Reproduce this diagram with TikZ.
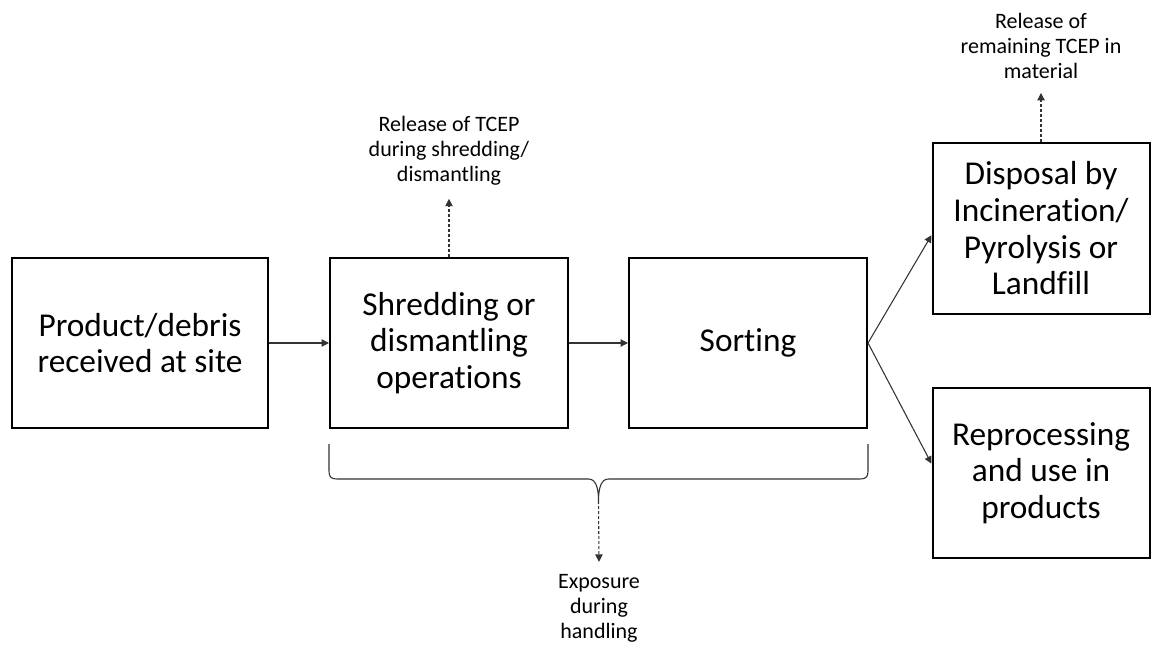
\documentclass[tikz,border=0pt]{standalone}
\usepackage{fontspec}
\setmainfont{Carlito}[Ligatures=NoCommon]
\usetikzlibrary{calc,arrows.meta}

\tikzset{
  stepbox/.style={draw=black,line width=1.5pt,minimum width=#1,minimum height=170*0.75pt,
    align=center,inner sep=0pt,font=\fontsize{25}{27.5}\selectfont},
  smalltext/.style={align=center,inner sep=0pt,font=\fontsize{16.5}{18.75}\selectfont},
  flow/.style={draw=black!80,line width=0.8pt,-{Triangle[length=5.5pt,width=5.5pt]}},
  dotflow/.style={flow,dash pattern=on 2.25pt off 1.5pt},
  braceline/.style={draw=black!80,line width=0.8pt}
}

\begin{document}
\begin{tikzpicture}[x=0.75pt,y=-0.75pt]
            \useasboundingbox (0,0) rectangle (1159,648);

            \node[stepbox=256*0.75pt] (recv) at (140,343) {Product/debris\\received at site};
            \node[stepbox=238*0.75pt] (shred) at (449,343) {Shredding or\\dismantling\\operations};
            \node[stepbox=238*0.75pt] (sort) at (748,343) {Sorting};
            \node[stepbox=217*0.75pt,minimum height=171*0.75pt] (disp) at (1041,228.5) {Disposal by\\Incineration/\\Pyrolysis or\\Landfill};
            \node[stepbox=217*0.75pt] (repro) at (1041,473) {Reprocessing\\and use in\\products};

            \node[smalltext] (relshred) at (449,151) {Release of TCEP\\during shredding/\\dismantling};
            \node[smalltext] (relrest) at (1041,46) {Release of\\remaining TCEP in\\material};
            \node[smalltext] (expo) at (599,608) {Exposure\\during\\handling};

            \draw[flow] (recv) -- (shred);
            \draw[flow] (shred) -- (sort);
            \draw[flow] (sort.east) -- ([yshift=-5pt]disp.west);
            \draw[flow] (sort.east) -- ([yshift=7pt]repro.west);

            \draw[dotflow] (shred.north) -- ($(relshred.south)+(0,13)$);
            \draw[dotflow] (disp.north) -- ($(relrest.south)+(0,14)$);

            \coordinate (bl) at ($(shred.south west)+(0,15)$);
            \coordinate (br) at ($(sort.south east)+(0,15)$);
            \coordinate (bm) at ($(bl)!0.5!(br)+(0,57)$);
            \draw[braceline] (bl) -- ++(0,27) .. controls +(0,6) and +(-6,0) .. ++(8,8)
              -- ($(bm)+(-10,-22)$) .. controls +(7,0) and +(0,-14) .. (bm)
              .. controls +(0,-14) and +(-7,0) .. ($(bm)+(10,-22)$)
              -- ($(br)+(-8,35)$) .. controls +(6,0) and +(0,6) .. ($(br)+(0,27)$) -- (br);
            \draw[dotflow] (bm) -- ($(expo.north)+(0,-12)$);
\end{tikzpicture}
\end{document}
